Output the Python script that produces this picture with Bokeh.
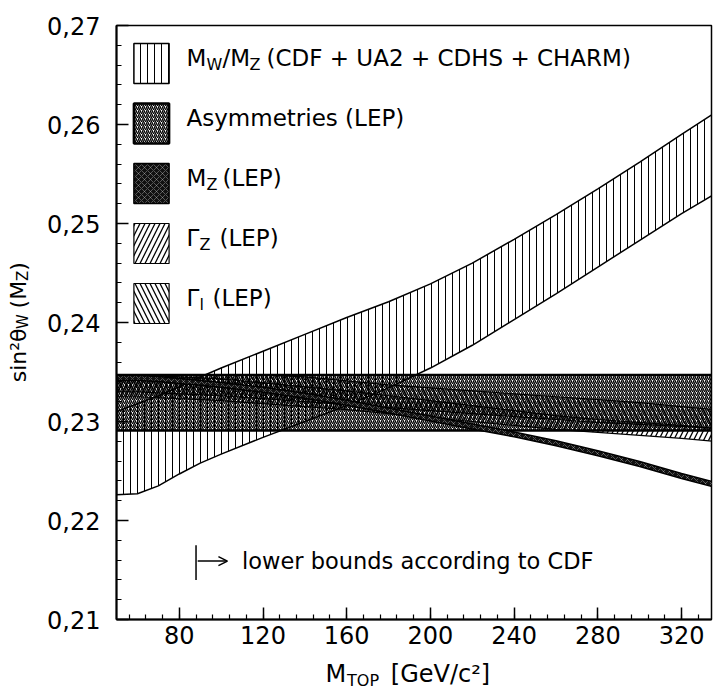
import math
from bokeh.plotting import figure
from bokeh.models import (Range1d, FixedTicker, Legend, LegendItem, Label, Arrow, OpenHead,
                          LinearAxis)
from bokeh.embed import file_html
from bokeh.resources import INLINE

# ---------------- data ----------------
mtop = [50, 60, 70, 80, 90, 100, 120, 140, 160, 180, 200, 220, 240, 260, 280, 300, 320, 336]

mw_low = [0.2226, 0.2227, 0.2235, 0.2247, 0.2258, 0.2267, 0.2284, 0.2300, 0.2316,
          0.2334, 0.2354, 0.2377, 0.2403, 0.2429, 0.2456, 0.2483, 0.2510, 0.2530]
mw_high = [0.2310, 0.2318, 0.2326, 0.2335, 0.2345, 0.2354, 0.2371, 0.2388, 0.2405,
           0.2421, 0.2439, 0.2460, 0.2484, 0.2509, 0.2535, 0.2562, 0.2590, 0.2612]

asym_x = [50, 336]
asym_low = [0.2291, 0.2291]
asym_high = [0.2347, 0.2347]

mz_low = [0.23415, 0.23415, 0.23405, 0.23385, 0.23365, 0.23345, 0.23295, 0.23235, 0.23165,
          0.23085, 0.23005, 0.22925, 0.22845, 0.22755, 0.22655, 0.22545, 0.22425, 0.22335]
mz_high = [0.23465, 0.23465, 0.23455, 0.23435, 0.23415, 0.23395, 0.23345, 0.23285, 0.23215,
           0.23135, 0.23055, 0.22975, 0.22895, 0.22805, 0.22705, 0.22595, 0.22475, 0.22385]

gz_low = [0.2325, 0.2325, 0.2324, 0.2323, 0.2322, 0.2321, 0.2318, 0.2315, 0.2312,
          0.2308, 0.2304, 0.2300, 0.2296, 0.2292, 0.2289, 0.2286, 0.2283, 0.2280]
gz_high = [0.2347, 0.2347, 0.2346, 0.2345, 0.2344, 0.2343, 0.2339, 0.2335, 0.2331,
           0.2326, 0.2321, 0.2316, 0.2311, 0.2306, 0.2302, 0.2299, 0.2296, 0.2293]

gl_low = [0.2330, 0.2330, 0.2329, 0.2328, 0.2327, 0.2326, 0.2323, 0.2320, 0.2317,
          0.2314, 0.2311, 0.2308, 0.2305, 0.2302, 0.2299, 0.2297, 0.2295, 0.2293]
gl_high = [0.2347, 0.2347, 0.2347, 0.2347, 0.2347, 0.2347, 0.2347, 0.2345, 0.2341,
           0.2337, 0.2334, 0.2331, 0.2328, 0.2325, 0.2322, 0.2319, 0.2315, 0.2312]

cdf_bound = 88          # CDF lower bound on M_top
cdf_note_y = 0.2159
cdf_bar = [0.2140, 0.2175]

x_ticks = [80, 120, 160, 200, 240, 280, 320]
x_tick_labels = ["80", "120", "160", "200", "240", "280", "320"]
y_ticks = [0.21, 0.22, 0.23, 0.24, 0.25, 0.26, 0.27]
y_tick_labels = ["0,21", "0,22", "0,23", "0,24", "0,25", "0,26", "0,27"]

# axis titles, split in pieces (position along the axis of each piece's centre)
xtitle_main_at = [154.8, 204.8]
xtitle_main = ["M", "[GeV/c²]"]
xtitle_sub_at = [167.8]
xtitle_sub = ["TOP"]
ytitle_main_at = [0.23668, 0.24282, 0.24566]
ytitle_main = ["sin²θ", "(M", ")"]
ytitle_sub_at = [0.2401, 0.24472]
ytitle_sub = ["W", "Z"]

FONT = "DejaVu Sans"


def band(xs, lo, hi):
    return list(xs) + list(xs)[::-1], list(lo) + list(hi)[::-1]


p = figure(width=714, height=692, x_range=Range1d(50, 334.3), y_range=Range1d(0.21, 0.27),
           output_backend="svg", toolbar_location=None,
           min_border_left=116, min_border_top=25, min_border_right=3, min_border_bottom=67)
p.background_fill_color = "white"
p.border_fill_color = "white"
p.outline_line_color = "black"
p.outline_line_width = 1.5
p.xgrid.visible = False
p.ygrid.visible = False

# ---------------- bands ----------------
bx, by = band(mtop, mw_low, mw_high)
r_mw = p.patch(bx, by, fill_color=None, hatch_pattern="|", hatch_scale=7, hatch_weight=1,
               hatch_color="black", line_color="black", line_width=1.5)

bx, by = band(asym_x, asym_low, asym_high)
r_as = p.patch(bx, by, fill_color=None, hatch_pattern="/", hatch_scale=4, hatch_weight=1.4,
               hatch_color="black", line_color="black", line_width=2.5)

bx, by = band(mtop, gz_low, gz_high)
r_gz = p.patch(bx, by, fill_color=None, hatch_pattern="/", hatch_scale=10, hatch_weight=1.3,
               hatch_color="black", line_color="black", line_width=1.2)

bx, by = band(mtop, gl_low, gl_high)
r_gl = p.patch(bx, by, fill_color=None, hatch_pattern="\\", hatch_scale=10, hatch_weight=1.3,
               hatch_color="black", line_color="black", line_width=1.2)

bx, by = band(mtop, mz_low, mz_high)
r_mz = p.patch(bx, by, fill_color="#111111", hatch_pattern="x", hatch_scale=6, hatch_weight=0.6,
               hatch_color="white", hatch_alpha=0.5, line_color="black", line_width=1.5)

# ---------------- legend swatches ----------------
legend = Legend(items=[LegendItem(label=" ", renderers=[r]) for r in (r_mw, r_as, r_mz, r_gz, r_gl)],
                location="top_left", glyph_width=44, glyph_height=50, spacing=10,
                padding=13, margin=0, border_line_alpha=0, background_fill_alpha=0,
                label_text_font_size="1px", label_standoff=0)
p.add_layout(legend)


def txt(text, x, y, size):
    p.add_layout(Label(x=x, y=y, x_units="screen", y_units="screen", text=text,
                       text_font=FONT, text_font_size=f"{size}px", text_color="black",
                       text_baseline="middle", text_align="left"))


# legend texts (screen units relative to the plot frame)
L0 = 70
rows = [562, 502, 442, 382, 322]
S = 23
SUB = 16
SD = 7
txt("M", L0, rows[0], S)
txt("W", L0 + 20, rows[0] - SD, SUB)
txt("/M", L0 + 36, rows[0], S)
txt("Z", L0 + 63, rows[0] - SD, SUB)
txt("(CDF + UA2 + CDHS + CHARM)", L0 + 80, rows[0], S)
txt("Asymmetries (LEP)", L0, rows[1], S)
txt("M", L0, rows[2], S)
txt("Z", L0 + 20, rows[2] - SD, SUB)
txt("(LEP)", L0 + 36, rows[2], S)
txt("Γ", L0, rows[3], S)
txt("Z", L0 + 13, rows[3] - SD, SUB)
txt("(LEP)", L0 + 33, rows[3], S)
txt("Γ", L0, rows[4], S)
txt("l", L0 + 13, rows[4] - SD, SUB)
txt("(LEP)", L0 + 26, rows[4], S)

# ---------------- CDF lower bound note ----------------
p.segment(x0=[cdf_bound], y0=[cdf_bar[0]], x1=[cdf_bound], y1=[cdf_bar[1]],
          line_color="black", line_width=1.5)
p.add_layout(Arrow(x_start=cdf_bound + 0.8, y_start=cdf_note_y, x_end=cdf_bound + 15, y_end=cdf_note_y,
                   line_width=1.5, line_color="black",
                   end=OpenHead(size=9, line_width=1.5, line_color="black")))
p.add_layout(Label(x=cdf_bound, y=cdf_note_y, x_offset=46, text="lower bounds according to CDF",
                   text_font=FONT, text_font_size="22.5px", text_color="black",
                   text_baseline="middle", text_align="left"))

# ---------------- axes ----------------
p.xaxis.ticker = FixedTicker(ticks=x_ticks, minor_ticks=list(range(56, 336, 8)))
p.yaxis.ticker = FixedTicker(ticks=y_ticks, minor_ticks=[round(0.21 + 0.002 * i, 3) for i in range(31)])
p.xaxis.major_label_overrides = dict(zip(x_ticks, x_tick_labels))
p.yaxis.major_label_overrides = dict(zip(y_ticks, y_tick_labels))
for ax in (p.xaxis, p.yaxis):
    ax.axis_line_width = 2
    ax.axis_line_color = "black"
    ax.major_tick_in = 12
    ax.major_tick_out = 0
    ax.minor_tick_in = 5
    ax.minor_tick_out = 0
    ax.major_tick_line_width = 1.5
    ax.minor_tick_line_width = 1.2
    ax.major_label_text_font = FONT
    ax.major_label_text_font_size = "24px"
    ax.major_label_text_color = "black"
p.yaxis.major_label_standoff = 16
p.xaxis.major_label_standoff = 6


def title_axis(side, ticks, labels, size, standoff, vertical=False, alpha=1.0):
    ax = LinearAxis(ticker=FixedTicker(ticks=ticks, minor_ticks=[]),
                    major_label_overrides=dict(zip(ticks, labels)),
                    axis_line_color=None, major_tick_line_color=None, minor_tick_line_color=None,
                    major_tick_in=0, major_tick_out=0, minor_tick_in=0, minor_tick_out=0,
                    major_label_standoff=standoff, major_label_text_font=FONT,
                    major_label_text_font_size=f"{size}px", major_label_text_color="black",
                    major_label_text_alpha=alpha)
    if vertical:
        ax.major_label_orientation = "vertical"
    p.add_layout(ax, side)


# x title: M_TOP [GeV/c²]  (subscript row first, main row pulled back up)
title_axis("below", xtitle_sub_at, xtitle_sub, 16, 24)
title_axis("below", xtitle_main_at, xtitle_main, 24, -33)
title_axis("below", [x_ticks[3]], [" "], 1, -14, alpha=0.0)      # spacer (negative size)
# y title: sin²θ_W (M_Z)
title_axis("left", ytitle_sub_at, ytitle_sub, 15, 12, vertical=True)
title_axis("left", ytitle_main_at, ytitle_main, 22, -20, vertical=True)
title_axis("left", [y_ticks[3]], [" "], 1, -14, vertical=True, alpha=0.0)  # spacer

open("out.html", "w").write(file_html(p, INLINE))
